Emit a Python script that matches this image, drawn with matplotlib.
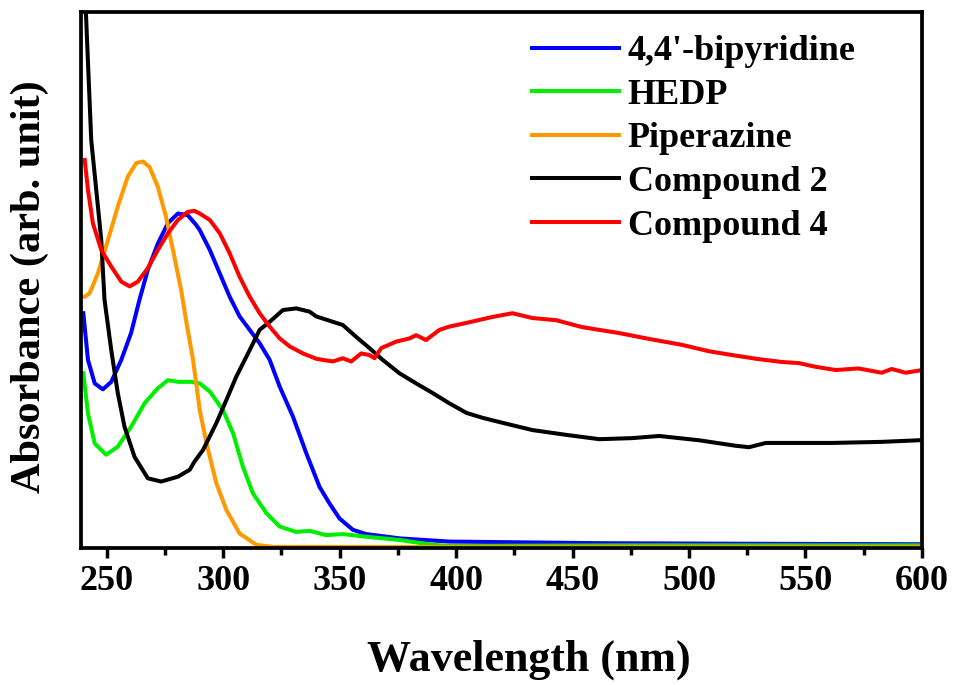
import matplotlib
matplotlib.use("Agg")
import matplotlib.pyplot as plt
from matplotlib.ticker import MultipleLocator

plt.rcParams['font.family'] = ['Liberation Serif', 'DejaVu Serif']
plt.rcParams['font.weight'] = 'bold'

# 4,4'-bipyridine
bpy_x = [240, 242.0, 244.9, 248.4, 252.0, 256.3, 260.5, 264.1, 267.7, 272.0, 276.3,
         280.6, 284.8, 288.4, 290.0, 294.3, 298.6, 302.8, 307.1, 311.4, 315.7, 320.0,
         324.3, 330.0, 335.7, 341.4, 345.7, 350.0, 355.7, 361.4, 375.7, 397.1, 461.3,
         520, 598.6]
bpy_y = [0.438, 0.351, 0.307, 0.296, 0.310, 0.351, 0.401, 0.463, 0.519, 0.568, 0.606,
         0.624, 0.621, 0.603, 0.593, 0.556, 0.512, 0.469, 0.432, 0.407, 0.382, 0.351,
         0.301, 0.245, 0.177, 0.114, 0.083, 0.055, 0.034, 0.026, 0.018, 0.012, 0.009,
         0.008, 0.007]

# HEDP
hedp_x = [240, 242.0, 244.9, 249.8, 254.8, 260.5, 266.3, 272.0, 276.3, 280.6, 286.3,
          290.0, 294.3, 300.0, 304.3, 308.5, 312.8, 318.6, 324.3, 331.4, 337.1, 344.3,
          351.4, 361.4, 375.7, 390.0, 397.1, 480, 598.6]
hedp_y = [0.326, 0.251, 0.195, 0.174, 0.189, 0.226, 0.270, 0.298, 0.313, 0.310, 0.310,
          0.307, 0.292, 0.257, 0.214, 0.152, 0.102, 0.065, 0.040, 0.030, 0.032, 0.024,
          0.026, 0.021, 0.015, 0.006, 0.004, 0.005, 0.005]

# Piperazine
pip_x = [240.6, 242.7, 246.3, 250.6, 254.8, 259.1, 262.7, 265.6, 268.4, 272.0, 275.5,
         279.1, 282.0, 284.1, 287.1, 290.0, 292.9, 297.1, 301.4, 307.1, 314.3, 321.4,
         400, 500, 600]
pip_y = [0.469, 0.475, 0.513, 0.575, 0.637, 0.693, 0.718, 0.721, 0.711, 0.674, 0.618,
         0.543, 0.481, 0.425, 0.351, 0.257, 0.195, 0.121, 0.071, 0.027, 0.006, 0.002,
         0.002, 0.002, 0.002]

# Compound 2
c2_x = [240.8, 241.1, 243.4, 247.7, 249.1, 252.0, 254.8, 257.7, 262.0, 267.7, 273.4,
        280.6, 285.7, 287.7, 291.4, 297.1, 301.4, 305.7, 309.3, 311.4, 315.7, 320.0,
        325.7, 331.4, 337.1, 340.0, 347.1, 351.4, 357.1, 362.8, 368.5, 375.7, 382.9,
        390.0, 397.1, 404.5, 411.3, 418.6, 432.8, 447.4, 461.5, 475.6, 487.2, 504.3,
        519.6, 525.7, 533, 561.3, 582.7, 598.6]
c2_y = [1.02, 1.0, 0.761, 0.575, 0.463, 0.369, 0.289, 0.226, 0.170, 0.130, 0.124,
        0.133, 0.146, 0.161, 0.183, 0.233, 0.276, 0.320, 0.351, 0.369, 0.407, 0.422,
        0.444, 0.447, 0.441, 0.432, 0.422, 0.416, 0.394, 0.373, 0.351, 0.326, 0.307,
        0.289, 0.270, 0.252, 0.243, 0.235, 0.220, 0.211, 0.203, 0.205, 0.209, 0.201,
        0.191, 0.188, 0.196, 0.196, 0.198, 0.201]

# Compound 4
c4_x = [240.6, 242.0, 244.1, 247.7, 252.0, 256.3, 259.9, 263.4, 267.7, 272.0, 276.3,
        280.6, 284.8, 287.7, 290.0, 294.3, 298.6, 302.8, 307.1, 311.4, 315.7, 320.0,
        324.3, 328.6, 334.3, 340.0, 347.1, 351.4, 355.0, 359.3, 362.8, 365.0, 367.9,
        374.3, 380.0, 382.9, 387.1, 392.9, 397.1, 404.5, 415.6, 424.2, 432.8, 443.0,
        454.2, 470.0, 482.9, 497.0, 508.6, 518.5, 528.8, 539.9, 547.1, 554.4, 563.0,
        572.8, 582.7, 587.0, 593.0, 598.6]
c4_y = [0.724, 0.668, 0.606, 0.556, 0.525, 0.497, 0.488, 0.497, 0.522, 0.556, 0.587,
        0.612, 0.627, 0.629, 0.624, 0.612, 0.587, 0.550, 0.506, 0.469, 0.438, 0.413,
        0.391, 0.376, 0.363, 0.353, 0.348, 0.354, 0.348, 0.363, 0.360, 0.354, 0.373,
        0.385, 0.391, 0.397, 0.388, 0.407, 0.413, 0.420, 0.431, 0.438, 0.429, 0.425,
        0.412, 0.401, 0.390, 0.379, 0.367, 0.360, 0.353, 0.347, 0.345, 0.338, 0.332,
        0.335, 0.327, 0.334, 0.327, 0.331]

fig = plt.figure(figsize=(9.55, 6.85), dpi=100)
ax = fig.add_axes([0.0848, 0.2, 0.8806, 0.7825])

lw = 2.9
ax.plot(bpy_x, bpy_y, color='#0000ff', lw=lw, label="4,4'-bipyridine")
ax.plot(hedp_x, hedp_y, color='#00ee00', lw=lw, label='HEDP')
ax.plot(pip_x, pip_y, color='#ff9900', lw=lw, label='Piperazine')
ax.plot(c2_x, c2_y, color='black', lw=lw, label='Compound 2')
ax.plot(c4_x, c4_y, color='#ff0000', lw=lw, label='Compound 4')

ax.set_xlim(239, 600)
ax.set_ylim(0, 1.0)
ax.xaxis.set_major_locator(MultipleLocator(50))
ax.xaxis.set_minor_locator(MultipleLocator(25))
ax.set_yticks([])
ax.tick_params(axis='x', which='major', direction='out', length=7, width=2.5,
               labelsize=26, pad=5)
ax.tick_params(axis='x', which='minor', direction='out', length=5, width=2.5)
for sp in ax.spines.values():
    sp.set_linewidth(2.7)

fig.text(529 / 955, 1 - 660 / 685, 'Wavelength (nm)', fontsize=31.7,
         fontweight='bold', ha='center', va='center')
fig.text(30 / 955, 1 - 287 / 685, 'Absorbance (arb. unit)', fontsize=30.5,
         fontweight='bold', ha='center', va='center', rotation=90)

ax.legend(loc='upper left', bbox_to_anchor=(532 / 955, 1 - 35 / 685),
          bbox_transform=fig.transFigure, frameon=False, fontsize=26,
          handlelength=2.4, handletextpad=0.25, labelspacing=0.285,
          borderpad=0, borderaxespad=0)

plt.savefig('out.png', dpi=100)
